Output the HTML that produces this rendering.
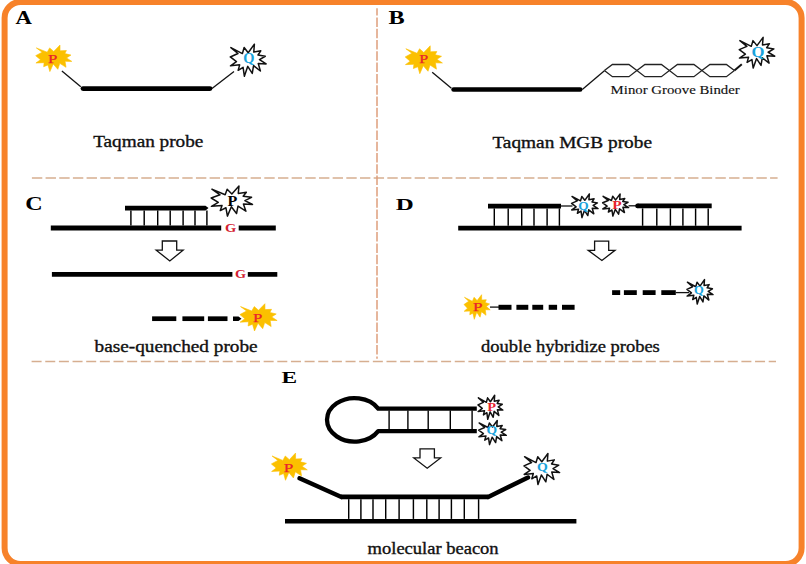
<!DOCTYPE html>
<html><head><meta charset="utf-8"><title>Probes</title>
<style>
html,body{margin:0;padding:0;background:#fff;}
body{width:806px;height:564px;overflow:hidden;}
svg{display:block;}
text{font-family:"Liberation Serif",serif;}
</style></head>
<body>
<svg width="806" height="564" viewBox="0 0 806 564">
<rect x="0" y="0" width="806" height="564" fill="#fff"/>
<rect x="4.6" y="1.9" width="797.0" height="562.2" rx="16" ry="16" fill="none" stroke="#F7822A" stroke-width="6"/>
<line x1="31.9" y1="177.9" x2="777.6" y2="177.9" stroke="#D6AE90" stroke-width="1.5" stroke-dasharray="10.4 3.27"/>
<line x1="31.6" y1="361.6" x2="776" y2="361.6" stroke="#D6AE90" stroke-width="1.5" stroke-dasharray="10 3.65"/>
<line x1="377" y1="8.2" x2="377" y2="358.8" stroke="#DE9F7C" stroke-width="1.5" stroke-dasharray="9.5 1.8" stroke-dashoffset="2.1"/>
<text x="15.6" y="23.9" font-size="17.8" font-weight="bold" fill="#000" text-anchor="start" textLength="16.4" lengthAdjust="spacingAndGlyphs">A</text>
<text x="388.5" y="23.9" font-size="17.8" font-weight="bold" fill="#000" text-anchor="start" textLength="16.2" lengthAdjust="spacingAndGlyphs">B</text>
<text x="25.2" y="209.6" font-size="18" font-weight="bold" fill="#000" text-anchor="start" textLength="17.4" lengthAdjust="spacingAndGlyphs">C</text>
<text x="395.8" y="209.7" font-size="17.6" font-weight="bold" fill="#000" text-anchor="start" textLength="18.0" lengthAdjust="spacingAndGlyphs">D</text>
<text x="281.4" y="383.2" font-size="16.8" font-weight="bold" fill="#000" text-anchor="start" textLength="15.6" lengthAdjust="spacingAndGlyphs">E</text>
<polygon points="53.75,51.48 59.97,45.10 60.03,50.83 66.42,50.57 64.80,53.56 70.96,55.08 66.49,57.90 71.80,61.40 65.05,61.29 66.03,67.30 59.78,63.37 57.84,69.31 53.25,64.03 49.88,71.60 47.98,64.98 43.66,66.71 44.14,62.66 35.93,63.00 40.50,59.69 35.70,55.67 42.20,52.19 36.32,47.92 47.22,52.19 49.66,47.92" fill="#FBC000" stroke="#FBC000" stroke-width="0.6" stroke-linejoin="round"/>
<text x="52.8" y="62.7" font-size="12.8" font-weight="normal" fill="#E8242C" text-anchor="middle" textLength="9.4" lengthAdjust="spacingAndGlyphs" stroke="#E8242C" stroke-width="0.25">P</text>
<line x1="61.9" y1="71.1" x2="80.8" y2="86.8" stroke="#111" stroke-width="1.3" stroke-linecap="butt"/>
<line x1="83" y1="88.6" x2="210" y2="88.6" stroke="#000" stroke-width="4.8" stroke-linecap="round"/>
<line x1="212" y1="88.5" x2="234" y2="71.6" stroke="#111" stroke-width="1.3" stroke-linecap="butt"/>
<polygon points="248.20,52.78 254.38,44.17 253.77,52.08 260.78,50.79 258.00,55.03 265.29,56.25 259.50,59.72 266.12,63.89 258.22,63.38 260.39,71.02 253.54,65.63 252.26,73.46 247.76,66.34 244.36,76.23 243.08,67.36 238.18,70.32 239.68,64.85 230.50,65.82 236.45,61.65 230.28,56.96 237.95,53.55 230.89,47.58 242.41,53.55 244.14,47.58" fill="#fff" stroke="#111" stroke-width="1.5" stroke-linejoin="round"/>
<text x="248.8" y="63.4" font-size="14.5" font-weight="bold" fill="#1AA3DC" text-anchor="middle" textLength="11.2" lengthAdjust="spacingAndGlyphs">Q</text>
<text x="93.2" y="146.8" font-size="16.3" font-weight="normal" fill="#111" text-anchor="start" textLength="110.2" lengthAdjust="spacingAndGlyphs" stroke="#111" stroke-width="0.35">Taqman probe</text>
<polygon points="423.80,52.52 430.21,45.80 430.27,51.83 436.85,51.56 435.18,54.71 441.53,56.31 436.93,59.28 442.40,62.97 435.44,62.85 436.45,69.17 430.01,65.04 428.01,71.29 423.28,65.73 419.81,73.70 417.85,66.73 413.40,68.56 413.90,64.29 405.43,64.64 410.15,61.16 405.20,56.93 411.89,53.27 405.84,48.76 417.07,53.27 419.58,48.76" fill="#FBC000" stroke="#FBC000" stroke-width="0.6" stroke-linejoin="round"/>
<text x="423.8" y="63.4" font-size="12.6" font-weight="normal" fill="#E8242C" text-anchor="middle" textLength="9.0" lengthAdjust="spacingAndGlyphs" stroke="#E8242C" stroke-width="0.25">P</text>
<line x1="432.2" y1="72.2" x2="451.4" y2="88.3" stroke="#111" stroke-width="1.3" stroke-linecap="butt"/>
<line x1="453.6" y1="89.5" x2="580.2" y2="89.5" stroke="#000" stroke-width="4.6" stroke-linecap="round"/>
<line x1="582.3" y1="89.5" x2="604.4" y2="70.8" stroke="#111" stroke-width="1.3" stroke-linecap="butt"/>
<path d="M604.4,70.6 L612.4,64.5 L628.9,64.5 L636.9,70.6 L644.9,76.69999999999999 L661.4,76.69999999999999 L669.4,70.6 L677.4,64.5 L693.9,64.5 L701.9,70.6 L709.9,76.69999999999999 L726.4,76.69999999999999 L734.4,70.6" fill="none" stroke="#222" stroke-width="1.3" stroke-linejoin="miter"/>
<path d="M604.4,70.6 L612.4,76.69999999999999 L628.9,76.69999999999999 L636.9,70.6 L644.9,64.5 L661.4,64.5 L669.4,70.6 L677.4,76.69999999999999 L693.9,76.69999999999999 L701.9,70.6 L709.9,64.5 L726.4,64.5 L734.4,70.6" fill="none" stroke="#222" stroke-width="1.3" stroke-linejoin="miter"/>
<line x1="734.4" y1="70.5" x2="741.8" y2="64.3" stroke="#111" stroke-width="2.0" stroke-linecap="butt"/>
<polygon points="757.00,45.61 763.11,37.38 762.51,44.93 769.44,43.70 766.69,47.75 773.90,48.92 768.17,52.24 774.73,56.23 766.91,55.74 769.05,63.05 762.28,57.89 761.02,65.38 756.56,58.57 753.20,68.03 751.94,59.55 747.09,62.37 748.58,57.15 739.50,58.07 745.38,54.08 739.27,49.60 746.87,46.34 739.88,40.63 751.28,46.34 752.98,40.63" fill="#fff" stroke="#111" stroke-width="1.5" stroke-linejoin="round"/>
<text x="758.1" y="56.6" font-size="15.2" font-weight="bold" fill="#1AA3DC" text-anchor="middle" textLength="13.0" lengthAdjust="spacingAndGlyphs">Q</text>
<text x="610.6" y="94.4" font-size="13.2" font-weight="normal" fill="#111" text-anchor="start" textLength="129.2" lengthAdjust="spacingAndGlyphs" stroke="#111" stroke-width="0.15">Minor Groove Binder</text>
<text x="492.4" y="147.9" font-size="16.3" font-weight="normal" fill="#111" text-anchor="start" textLength="159.6" lengthAdjust="spacingAndGlyphs" stroke="#111" stroke-width="0.35">Taqman MGB probe</text>
<line x1="50.8" y1="228.0" x2="221.2" y2="228.0" stroke="#000" stroke-width="4.8" stroke-linecap="butt"/>
<line x1="238.7" y1="228.0" x2="275.8" y2="228.0" stroke="#000" stroke-width="4.8" stroke-linecap="butt"/>
<text x="230.6" y="232.2" font-size="11.5" font-weight="bold" fill="#D3202F" text-anchor="middle" textLength="11.2" lengthAdjust="spacingAndGlyphs">G</text>
<path d="M125,205.8 L205.5,205.8 L208.5,208.1 L205.5,210.4 L125,210.4 Z" fill="#000"/>
<line x1="130.9" y1="210.4" x2="130.9" y2="225.6" stroke="#000" stroke-width="1.45" stroke-linecap="butt"/>
<line x1="144.2" y1="210.4" x2="144.2" y2="225.6" stroke="#000" stroke-width="1.45" stroke-linecap="butt"/>
<line x1="157.7" y1="210.4" x2="157.7" y2="225.6" stroke="#000" stroke-width="1.45" stroke-linecap="butt"/>
<line x1="170.2" y1="210.4" x2="170.2" y2="225.6" stroke="#000" stroke-width="1.45" stroke-linecap="butt"/>
<line x1="183.1" y1="210.4" x2="183.1" y2="225.6" stroke="#000" stroke-width="1.45" stroke-linecap="butt"/>
<line x1="195.0" y1="210.4" x2="195.0" y2="225.6" stroke="#000" stroke-width="1.45" stroke-linecap="butt"/>
<line x1="206.9" y1="210.4" x2="206.9" y2="225.6" stroke="#000" stroke-width="1.45" stroke-linecap="butt"/>
<polygon points="231.85,194.07 238.98,185.98 238.27,193.41 246.36,192.20 243.15,196.19 251.56,197.33 244.88,200.60 252.52,204.53 243.41,204.04 245.91,211.23 238.01,206.15 236.53,213.52 231.34,206.82 227.42,216.12 225.94,207.79 220.29,210.57 222.02,205.43 211.43,206.34 218.30,202.41 211.18,198.00 220.03,194.80 211.88,189.18 225.17,194.80 227.16,189.18" fill="#fff" stroke="#111" stroke-width="1.5" stroke-linejoin="round"/>
<text x="232.4" y="205.7" font-size="14.6" font-weight="bold" fill="#000" text-anchor="middle" textLength="9.8" lengthAdjust="spacingAndGlyphs">P</text>
<path d="M162.3,241.0 L176.7,241.0 L176.7,250.2 L183.1,250.2 L169.8,260.9 L156.2,250.2 L162.3,250.2 Z" fill="#fff" stroke="#111" stroke-width="1.3" stroke-linejoin="miter"/>
<line x1="51.9" y1="274.4" x2="232.4" y2="274.4" stroke="#000" stroke-width="4.7" stroke-linecap="butt"/>
<line x1="247.8" y1="274.4" x2="277.3" y2="274.4" stroke="#000" stroke-width="4.7" stroke-linecap="butt"/>
<text x="240.6" y="278.4" font-size="12.5" font-weight="bold" fill="#D3202F" text-anchor="middle" textLength="11.0" lengthAdjust="spacingAndGlyphs">G</text>
<line x1="152.1" y1="318.7" x2="176.3" y2="318.7" stroke="#000" stroke-width="4.7" stroke-linecap="butt"/>
<line x1="182.4" y1="318.7" x2="204.2" y2="318.7" stroke="#000" stroke-width="4.7" stroke-linecap="butt"/>
<line x1="207.9" y1="318.7" x2="227.5" y2="318.7" stroke="#000" stroke-width="4.7" stroke-linecap="butt"/>
<path d="M233,316.4 L238.5,316.4 L241.5,318.7 L238.5,321 L233,321 Z" fill="#000"/>
<polygon points="258.50,310.27 264.91,303.70 264.97,309.60 271.55,309.33 269.88,312.42 276.23,313.98 271.63,316.89 277.10,320.50 270.14,320.38 271.15,326.57 264.71,322.53 262.71,328.65 257.98,323.20 254.51,331.00 252.55,324.18 248.10,325.97 248.60,321.79 240.13,322.14 244.85,318.73 239.90,314.59 246.59,311.01 240.54,306.60 251.77,311.01 254.28,306.60" fill="#FBC000" stroke="#FBC000" stroke-width="0.6" stroke-linejoin="round"/>
<text x="257.7" y="322.0" font-size="12.8" font-weight="normal" fill="#E8242C" text-anchor="middle" textLength="9.4" lengthAdjust="spacingAndGlyphs" stroke="#E8242C" stroke-width="0.25">P</text>
<text x="94.6" y="352.3" font-size="16.3" font-weight="normal" fill="#111" text-anchor="start" textLength="163.0" lengthAdjust="spacingAndGlyphs" stroke="#111" stroke-width="0.35">base-quenched probe</text>
<line x1="458.2" y1="228.1" x2="741.6" y2="228.1" stroke="#000" stroke-width="4.7" stroke-linecap="butt"/>
<line x1="488" y1="206.1" x2="561" y2="206.1" stroke="#000" stroke-width="4.6" stroke-linecap="butt"/>
<line x1="494.3" y1="208.4" x2="494.3" y2="225.8" stroke="#000" stroke-width="1.45" stroke-linecap="butt"/>
<line x1="508.2" y1="208.4" x2="508.2" y2="225.8" stroke="#000" stroke-width="1.45" stroke-linecap="butt"/>
<line x1="521.7" y1="208.4" x2="521.7" y2="225.8" stroke="#000" stroke-width="1.45" stroke-linecap="butt"/>
<line x1="534.0" y1="208.4" x2="534.0" y2="225.8" stroke="#000" stroke-width="1.45" stroke-linecap="butt"/>
<line x1="547.1" y1="208.4" x2="547.1" y2="225.8" stroke="#000" stroke-width="1.45" stroke-linecap="butt"/>
<line x1="559.4" y1="208.4" x2="559.4" y2="225.8" stroke="#000" stroke-width="1.45" stroke-linecap="butt"/>
<line x1="561" y1="206.0" x2="572.5" y2="206.0" stroke="#111" stroke-width="1.3" stroke-linecap="butt"/>
<polygon points="584.80,200.33 589.36,193.98 588.91,199.81 594.08,198.86 592.03,201.98 597.41,202.88 593.14,205.44 598.03,208.53 592.19,208.15 593.79,213.79 588.74,209.80 587.80,215.59 584.47,210.33 581.97,217.62 581.02,211.09 577.41,213.26 578.51,209.23 571.74,209.95 576.13,206.87 571.57,203.41 577.24,200.89 572.03,196.49 580.53,200.89 581.80,196.49" fill="#fff" stroke="#111" stroke-width="1.5" stroke-linejoin="round"/>
<text x="583.4" y="209.5" font-size="13.5" font-weight="bold" fill="#1AA3DC" text-anchor="middle" textLength="10.4" lengthAdjust="spacingAndGlyphs">Q</text>
<polygon points="615.65,199.92 620.12,193.98 619.68,199.44 624.76,198.55 622.74,201.48 628.02,202.32 623.83,204.72 628.62,207.60 622.90,207.25 624.47,212.53 619.52,208.80 618.59,214.21 615.33,209.29 612.87,216.12 611.94,210.00 608.40,212.04 609.48,208.27 602.84,208.93 607.15,206.05 602.67,202.81 608.23,200.46 603.12,196.33 611.46,200.46 612.71,196.33" fill="#fff" stroke="#111" stroke-width="1.5" stroke-linejoin="round"/>
<text x="617.0" y="209.2" font-size="12.5" font-weight="bold" fill="#E8242C" text-anchor="middle" textLength="9.4" lengthAdjust="spacingAndGlyphs">P</text>
<line x1="628.5" y1="205.8" x2="637" y2="205.8" stroke="#111" stroke-width="1.3" stroke-linecap="butt"/>
<line x1="637.6" y1="205.9" x2="711.7" y2="205.9" stroke="#000" stroke-width="4.8" stroke-linecap="butt"/>
<circle cx="637.6" cy="205.9" r="2.4" fill="#000"/>
<line x1="642.6" y1="208.4" x2="642.6" y2="225.8" stroke="#000" stroke-width="1.45" stroke-linecap="butt"/>
<line x1="656.8" y1="208.4" x2="656.8" y2="225.8" stroke="#000" stroke-width="1.45" stroke-linecap="butt"/>
<line x1="670.4" y1="208.4" x2="670.4" y2="225.8" stroke="#000" stroke-width="1.45" stroke-linecap="butt"/>
<line x1="682.9" y1="208.4" x2="682.9" y2="225.8" stroke="#000" stroke-width="1.45" stroke-linecap="butt"/>
<line x1="695.6" y1="208.4" x2="695.6" y2="225.8" stroke="#000" stroke-width="1.45" stroke-linecap="butt"/>
<line x1="708.2" y1="208.4" x2="708.2" y2="225.8" stroke="#000" stroke-width="1.45" stroke-linecap="butt"/>
<path d="M594.6,241.2 L608.7,241.2 L608.7,250.3 L615.0,250.3 L601.9,260.5 L588.2,250.3 L594.6,250.3 Z" fill="#fff" stroke="#111" stroke-width="1.3" stroke-linejoin="miter"/>
<polygon points="477.10,300.62 481.61,294.70 481.66,300.02 486.29,299.78 485.12,302.55 489.59,303.97 486.35,306.59 490.20,309.84 485.30,309.73 486.01,315.31 481.47,311.66 480.07,317.18 476.74,312.27 474.29,319.30 472.91,313.16 469.78,314.76 470.13,311.00 464.16,311.31 467.48,308.24 464.00,304.51 468.71,301.29 464.45,297.31 472.36,301.29 474.13,297.31" fill="#FBC000" stroke="#FBC000" stroke-width="0.6" stroke-linejoin="round"/>
<text x="477.7" y="310.6" font-size="12.8" font-weight="normal" fill="#E8242C" text-anchor="middle" textLength="9.6" lengthAdjust="spacingAndGlyphs" stroke="#E8242C" stroke-width="0.25">P</text>
<line x1="490" y1="307.1" x2="499" y2="307.1" stroke="#111" stroke-width="1.3" stroke-linecap="butt"/>
<line x1="498.5" y1="307.3" x2="511.5" y2="307.3" stroke="#000" stroke-width="5.0" stroke-linecap="butt"/>
<line x1="516.4" y1="307.3" x2="528.3" y2="307.3" stroke="#000" stroke-width="5.0" stroke-linecap="butt"/>
<line x1="532.3" y1="307.3" x2="543.2" y2="307.3" stroke="#000" stroke-width="5.0" stroke-linecap="butt"/>
<line x1="548.7" y1="307.3" x2="557.1" y2="307.3" stroke="#000" stroke-width="5.0" stroke-linecap="butt"/>
<line x1="562.0" y1="307.3" x2="574.6" y2="307.3" stroke="#000" stroke-width="5.0" stroke-linecap="butt"/>
<line x1="612.1" y1="292.6" x2="620.2" y2="292.6" stroke="#000" stroke-width="4.8" stroke-linecap="butt"/>
<line x1="623.9" y1="292.6" x2="636.8" y2="292.6" stroke="#000" stroke-width="4.8" stroke-linecap="butt"/>
<line x1="642.7" y1="292.6" x2="655.6" y2="292.6" stroke="#000" stroke-width="4.8" stroke-linecap="butt"/>
<line x1="661.3" y1="292.6" x2="675.8" y2="292.6" stroke="#000" stroke-width="4.8" stroke-linecap="butt"/>
<line x1="675.8" y1="292.6" x2="689" y2="292.6" stroke="#111" stroke-width="1.3" stroke-linecap="butt"/>
<polygon points="700.00,286.14 704.49,279.57 704.05,285.60 709.14,284.62 707.12,287.86 712.42,288.79 708.21,291.43 713.03,294.62 707.28,294.22 708.86,300.06 703.88,295.94 702.95,301.92 699.68,296.48 697.21,304.02 696.28,297.26 692.72,299.52 693.81,295.35 687.14,296.09 691.46,292.90 686.97,289.33 692.56,286.73 687.42,282.17 695.79,286.73 697.05,282.17" fill="#fff" stroke="#111" stroke-width="1.5" stroke-linejoin="round"/>
<text x="698.8" y="294.2" font-size="13.5" font-weight="bold" fill="#1AA3DC" text-anchor="middle" textLength="9.8" lengthAdjust="spacingAndGlyphs">Q</text>
<text x="481.0" y="351.8" font-size="16.3" font-weight="normal" fill="#111" text-anchor="start" textLength="178.8" lengthAdjust="spacingAndGlyphs" stroke="#111" stroke-width="0.35">double hybridize probes</text>
<path d="M476.8,408.6 L378.2,408.6 A27.6,21.7 0 1 0 378.2,431.1 L476.8,431.1" fill="none" stroke="#000" stroke-width="4.3" stroke-linejoin="round"/>
<line x1="389.1" y1="410.6" x2="389.1" y2="429.2" stroke="#000" stroke-width="1.4" stroke-linecap="butt"/>
<line x1="407.9" y1="410.6" x2="407.9" y2="429.2" stroke="#000" stroke-width="1.4" stroke-linecap="butt"/>
<line x1="428.2" y1="410.6" x2="428.2" y2="429.2" stroke="#000" stroke-width="1.4" stroke-linecap="butt"/>
<line x1="450.3" y1="410.6" x2="450.3" y2="429.2" stroke="#000" stroke-width="1.4" stroke-linecap="butt"/>
<line x1="472.1" y1="410.6" x2="472.1" y2="429.2" stroke="#000" stroke-width="1.4" stroke-linecap="butt"/>
<polygon points="490.40,401.73 494.68,395.28 494.26,401.20 499.12,400.24 497.19,403.42 502.25,404.33 498.23,406.94 502.82,410.07 497.35,409.68 498.85,415.42 494.10,411.37 493.22,417.25 490.09,411.90 487.74,419.32 486.85,412.67 483.45,414.89 484.49,410.79 478.13,411.52 482.26,408.39 477.98,404.87 483.30,402.31 478.40,397.83 486.39,402.31 487.58,397.83" fill="#fff" stroke="#111" stroke-width="1.5" stroke-linejoin="round"/>
<text x="491.6" y="411.0" font-size="12.5" font-weight="bold" fill="#E8242C" text-anchor="middle" textLength="8.8" lengthAdjust="spacingAndGlyphs">P</text>
<polygon points="492.50,426.96 497.26,420.48 496.79,426.43 502.20,425.46 500.06,428.65 505.68,429.57 501.21,432.19 506.32,435.33 500.23,434.94 501.90,440.71 496.62,436.64 495.63,442.54 492.16,437.17 489.54,444.62 488.55,437.95 484.77,440.17 485.93,436.06 478.85,436.78 483.44,433.64 478.68,430.11 484.60,427.54 479.15,423.04 488.04,427.54 489.37,423.04" fill="#fff" stroke="#111" stroke-width="1.5" stroke-linejoin="round"/>
<text x="491.8" y="434.0" font-size="12.8" font-weight="bold" fill="#1AA3DC" text-anchor="middle" textLength="10.6" lengthAdjust="spacingAndGlyphs">Q</text>
<path d="M420.0,448.8 L434.4,448.8 L434.4,457.9 L440.6,457.9 L427.2,468.3 L413.8,457.9 L420.0,457.9 Z" fill="#fff" stroke="#111" stroke-width="1.3" stroke-linejoin="miter"/>
<polygon points="289.35,459.65 295.54,453.10 295.60,458.98 301.95,458.71 300.34,461.78 306.46,463.35 302.02,466.24 307.30,469.84 300.59,469.72 301.56,475.89 295.34,471.86 293.42,477.95 288.85,472.53 285.50,480.30 283.61,473.51 279.31,475.28 279.80,471.12 271.62,471.47 276.17,468.08 271.40,463.95 277.86,460.38 272.01,455.99 282.86,460.38 285.28,455.99" fill="#FBC000" stroke="#FBC000" stroke-width="0.6" stroke-linejoin="round"/>
<text x="288.6" y="471.9" font-size="12.8" font-weight="normal" fill="#E8242C" text-anchor="middle" textLength="9.6" lengthAdjust="spacingAndGlyphs" stroke="#E8242C" stroke-width="0.25">P</text>
<line x1="299.5" y1="478.3" x2="341.4" y2="497.0" stroke="#000" stroke-width="4.5" stroke-linecap="round"/>
<line x1="341.0" y1="496.9" x2="488.2" y2="496.9" stroke="#000" stroke-width="4.6" stroke-linecap="butt"/>
<line x1="488.2" y1="496.9" x2="528.0" y2="477.6" stroke="#000" stroke-width="4.5" stroke-linecap="round"/>
<polygon points="541.80,461.81 547.94,453.48 547.34,461.13 554.31,459.88 551.54,463.99 558.79,465.17 553.03,468.53 559.62,472.58 551.76,472.08 553.92,479.49 547.11,474.26 545.84,481.85 541.36,474.94 537.98,484.52 536.71,475.94 531.83,478.80 533.33,473.51 524.20,474.44 530.12,470.40 523.97,465.86 531.61,462.56 524.59,456.77 536.04,462.56 537.76,456.77" fill="#fff" stroke="#111" stroke-width="1.5" stroke-linejoin="round"/>
<text x="542.4" y="470.6" font-size="13.5" font-weight="bold" fill="#1AA3DC" text-anchor="middle" textLength="10.8" lengthAdjust="spacingAndGlyphs">Q</text>
<line x1="348.7" y1="499.2" x2="348.7" y2="518.9" stroke="#000" stroke-width="1.45" stroke-linecap="butt"/>
<line x1="360.9" y1="499.2" x2="360.9" y2="518.9" stroke="#000" stroke-width="1.45" stroke-linecap="butt"/>
<line x1="373.0" y1="499.2" x2="373.0" y2="518.9" stroke="#000" stroke-width="1.45" stroke-linecap="butt"/>
<line x1="385.7" y1="499.2" x2="385.7" y2="518.9" stroke="#000" stroke-width="1.45" stroke-linecap="butt"/>
<line x1="399.1" y1="499.2" x2="399.1" y2="518.9" stroke="#000" stroke-width="1.45" stroke-linecap="butt"/>
<line x1="413.4" y1="499.2" x2="413.4" y2="518.9" stroke="#000" stroke-width="1.45" stroke-linecap="butt"/>
<line x1="426.8" y1="499.2" x2="426.8" y2="518.9" stroke="#000" stroke-width="1.45" stroke-linecap="butt"/>
<line x1="439.1" y1="499.2" x2="439.1" y2="518.9" stroke="#000" stroke-width="1.45" stroke-linecap="butt"/>
<line x1="451.4" y1="499.2" x2="451.4" y2="518.9" stroke="#000" stroke-width="1.45" stroke-linecap="butt"/>
<line x1="464.3" y1="499.2" x2="464.3" y2="518.9" stroke="#000" stroke-width="1.45" stroke-linecap="butt"/>
<line x1="478.6" y1="499.2" x2="478.6" y2="518.9" stroke="#000" stroke-width="1.45" stroke-linecap="butt"/>
<line x1="285.0" y1="521.3" x2="576.4" y2="521.3" stroke="#000" stroke-width="4.6" stroke-linecap="butt"/>
<text x="367.6" y="553.8" font-size="16.3" font-weight="normal" fill="#111" text-anchor="start" textLength="131.0" lengthAdjust="spacingAndGlyphs" stroke="#111" stroke-width="0.35">molecular beacon</text>
</svg>
</body></html>
